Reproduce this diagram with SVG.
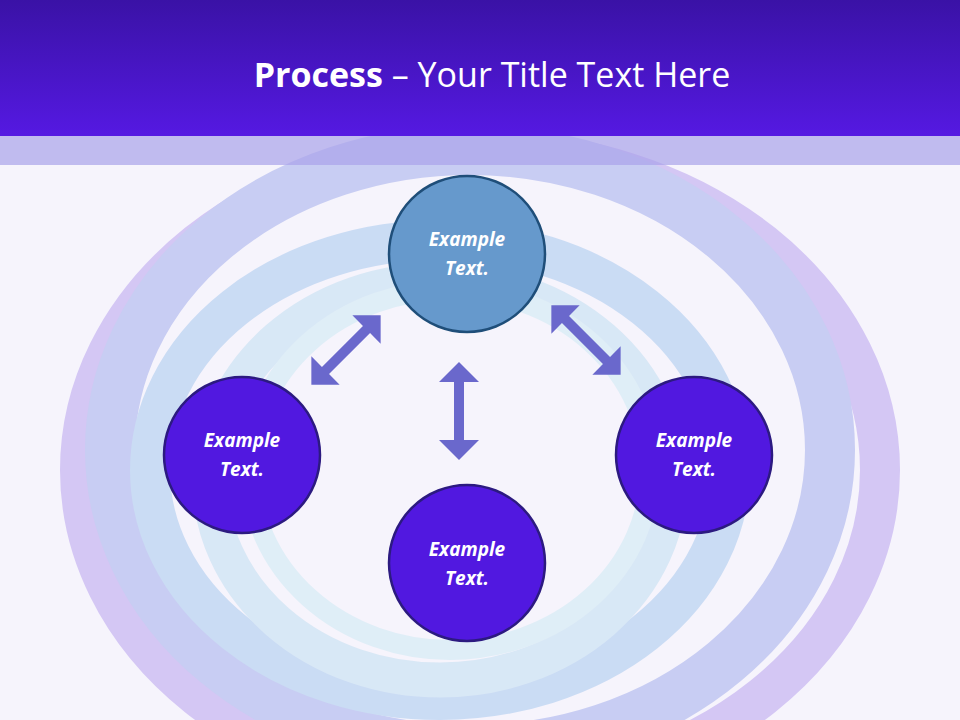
<svg xmlns="http://www.w3.org/2000/svg" width="960" height="720" viewBox="0 0 960 720">
<defs>
<linearGradient id="hdr" x1="0" y1="0" x2="0" y2="1"><stop offset="0" stop-color="#3a12a6"/><stop offset="1" stop-color="#5519e2"/></linearGradient>
<polygon id="dbl" points="-49,0 -29,-20 -29,-5 29,-5 29,-20 49,0 29,20 29,5 -29,5 -29,20"/>
<style>
.node circle{stroke-width:2.5}
.purple{fill:#5118e0;stroke:#2c1a80}
.blue{fill:#6699cc;stroke:#1f4e79}
.lbl{font-family:"Open Sans","Liberation Sans",sans-serif;font-size:19px;font-weight:bold;font-style:italic;fill:#fff;text-anchor:middle}
.ring{fill:none}
</style>
</defs>
<rect width="960" height="720" fill="#f6f4fc"/>
<g opacity="0.75">
<ellipse class="ring" cx="480" cy="470" rx="400" ry="320" stroke="#c9b8f2" stroke-width="40"/>
<ellipse class="ring" cx="470" cy="450" rx="360" ry="300" stroke="#b9c0f0" stroke-width="50"/>
<ellipse class="ring" cx="440" cy="470" rx="290" ry="230" stroke="#bcd4f2" stroke-width="40"/>
<ellipse class="ring" cx="440" cy="480" rx="230" ry="200" stroke="#cfe4f4" stroke-width="35"/>
<ellipse class="ring" cx="450" cy="470" rx="200" ry="180" stroke="#d8ecf6" stroke-width="20"/>
</g>
<rect x="0" y="0" width="960" height="136" fill="url(#hdr)"/>
<rect x="0" y="136" width="960" height="29" fill="#a9a3ea" opacity="0.7"/>
<text x="492" y="87" text-anchor="middle" font-family="'Open Sans','Liberation Sans',sans-serif" font-size="34" fill="#fff"><tspan font-weight="bold">Process</tspan> – Your Title Text Here</text>
<g id="connectors" fill="#6a68cc">
<use href="#dbl" transform="translate(459,411) rotate(90)"/>
<use href="#dbl" transform="translate(346,350) rotate(-45)"/>
<use href="#dbl" transform="translate(586,340) rotate(45)"/>
</g>
<g id="n1" class="node"><circle class="blue" cx="467" cy="254" r="78"/><text class="lbl" x="467" y="246">Example</text><text class="lbl" x="467" y="275">Text.</text></g>
<g id="n2" class="node"><circle class="purple" cx="242" cy="455" r="78"/><text class="lbl" x="242" y="447">Example</text><text class="lbl" x="242" y="476">Text.</text></g>
<g id="n3" class="node"><circle class="purple" cx="694" cy="455" r="78"/><text class="lbl" x="694" y="447">Example</text><text class="lbl" x="694" y="476">Text.</text></g>
<g id="n4" class="node"><circle class="purple" cx="467" cy="563" r="78"/><text class="lbl" x="467" y="556">Example</text><text class="lbl" x="467" y="585">Text.</text></g>
</svg>
